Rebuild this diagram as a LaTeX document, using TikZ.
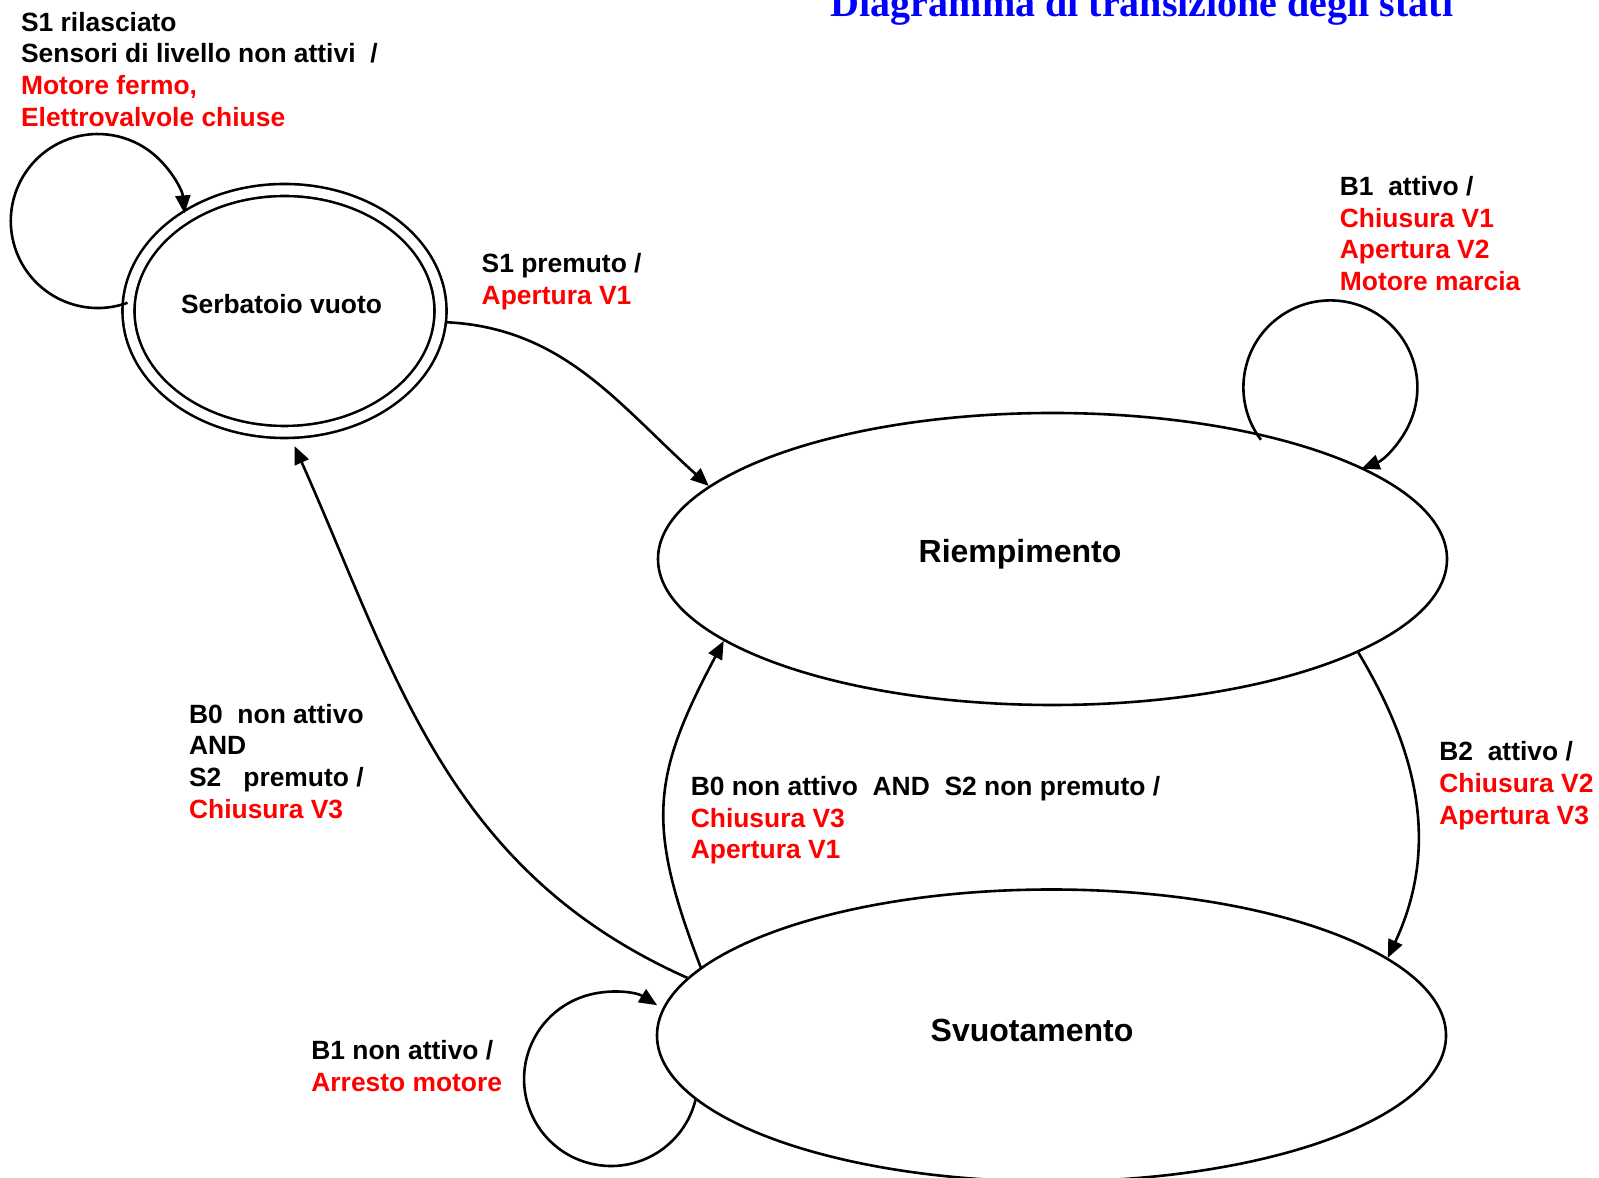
\documentclass[tikz,border=0pt]{standalone}
\usepackage{fontspec}
\setmainfont{Liberation Sans}
\newfontfamily\titolofont{Liberation Serif}
\usetikzlibrary{shapes.geometric, arrows.meta}
\tikzset{stato/.style={ellipse, draw, line width=1.3pt, inner sep=0pt}}
\tikzset{statodoppio/.style={stato, double, double distance=4.7pt}}
\tikzset{nome/.style={font=\bfseries\fontsize{13.2}{15.85}\selectfont, inner sep=0pt, anchor=base}}
\tikzset{nomegrande/.style={nome, font=\bfseries\fontsize{16}{18}\selectfont}}
\tikzset{titolo/.style={font=\titolofont\bfseries\fontsize{20}{24}\selectfont, text=blue, inner sep=0pt, anchor=base}}
\tikzset{etich/.style={anchor=north west, inner sep=0pt, align=left, font=\bfseries\fontsize{13.2}{15.85}\selectfont}}
\tikzset{trans/.style={draw, -{Triangle[length=9pt, width=7.5pt]}, line width=1.3pt}}
\newcommand{\azione}[1]{\textcolor{red}{#1}}

\begin{document}
\begin{tikzpicture}[x=0.5pt, y=0.5pt]
	\useasboundingbox (0,0) rectangle (1599,1177);
	\clip (0,0) rectangle (1599,1177);
	% stati
	\node[statodoppio, minimum width=156pt, minimum height=121pt] (serb) at (284.5,866) {};
	\node[stato, minimum width=394.5pt, minimum height=146pt] (riemp) at (1052.5,618) {};
	\node[stato, minimum width=394.5pt, minimum height=146pt] (svuot) at (1051.5,141.5) {};
	\node[nome] (serb-nome) at (281.5,863) {Serbatoio vuoto};
	\node[nomegrande] (riemp-nome) at (1020,614) {Riempimento};
	\node[nomegrande] (svuot-nome) at (1032,135) {Svuotamento};
	\node[titolo] (tit) at (1142,1160) {Diagramma di transizione degli stati};
	% transizioni
	\draw[trans] (serb.177) arc[start angle=-70, end angle=-355, radius=87];
	\draw[trans] ([yshift=-3pt]riemp.31) arc[start angle=217, end angle=-69, radius=87];
	\draw[trans] ([xshift=1pt]svuot.190.7) arc[start angle=-13, end angle=-302, radius=87];
	\draw[trans, shorten <=3pt] (serb.-4) to[out=-3, in=138] (riemp.168);
	\draw[trans] (riemp.-17) to[out=-59, in=65] (svuot.13);
	\draw[trans] (svuot.169) to[out=111, in=-118, looseness=1.2] (riemp.194);
	\draw[trans, shorten >=7pt] (svuot.171) to[out=156, in=-66] (serb.-88);
	% etichette
	\node[etich] (e-serb) at (20.7,1165.3) {S1 rilasciato\\Sensori di livello non attivi~~/\\\azione{Motore fermo,}\\\azione{Elettrovalvole chiuse}};
	\node[etich] (e-s1) at (481.3,924.1) {S1 premuto /\\\azione{Apertura V1}};
	\node[etich] (e-riemp) at (1339.5,1001) {B1~~attivo /\\\azione{Chiusura V1}\\\azione{Apertura V2}\\\azione{Motore marcia}};
	\node[etich] (e-b0s2) at (188.7,473.4) {B0~~non attivo\\AND\\S2~~~premuto /\\\azione{Chiusura V3}};
	\node[etich] (e-b0ns2) at (690.4,401) {B0 non attivo~~AND~~S2 non premuto /\\\azione{Chiusura V3}\\\azione{Apertura V1}};
	\node[etich] (e-b2) at (1439,435.6) {B2~~attivo /\\\azione{Chiusura V2}\\\azione{Apertura V3}};
	\node[etich] (e-svuot) at (311,136.8) {B1 non attivo /\\\azione{Arresto motore}};
\end{tikzpicture}
\end{document}
